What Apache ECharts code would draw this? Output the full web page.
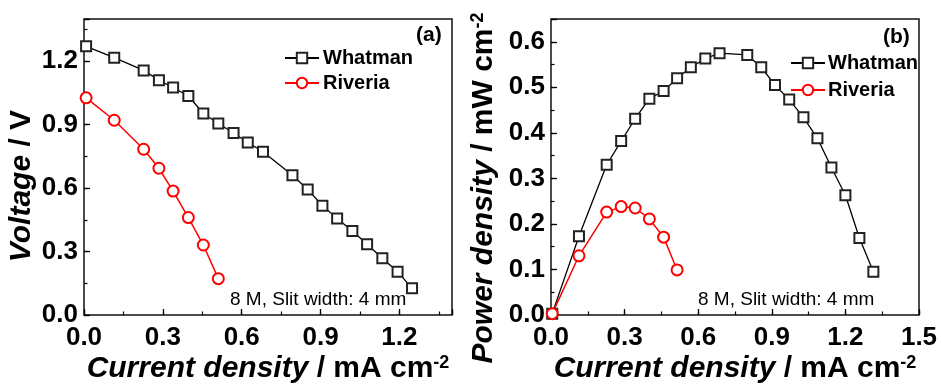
<!DOCTYPE html>
<html><head><meta charset="utf-8">
<script src="https://cdn.jsdelivr.net/npm/echarts@6/dist/echarts.min.js"></script>
<style>html,body{margin:0;padding:0;background:#fff}#c{width:941px;height:385px}</style>
</head><body><div id="c"></div>
<script>
// Panel (a): Voltage vs current density
const vWhatmanX = [0.008, 0.115, 0.227, 0.285, 0.339, 0.397, 0.454, 0.511, 0.569, 0.623, 0.681, 0.793, 0.851, 0.907, 0.963, 1.021, 1.077, 1.135, 1.193, 1.248];
const vWhatmanY = [1.271, 1.217, 1.157, 1.110, 1.076, 1.036, 0.953, 0.906, 0.861, 0.816, 0.772, 0.661, 0.594, 0.517, 0.457, 0.397, 0.335, 0.268, 0.205, 0.126];
const vRiveriaX = [0.008, 0.115, 0.227, 0.285, 0.339, 0.397, 0.454, 0.511];
const vRiveriaY = [1.027, 0.921, 0.784, 0.694, 0.586, 0.461, 0.331, 0.172];
// Panel (b): Power density vs current density
const pWhatmanX = [0.005, 0.114, 0.227, 0.286, 0.343, 0.401, 0.459, 0.514, 0.570, 0.629, 0.687, 0.800, 0.857, 0.913, 0.971, 1.029, 1.086, 1.143, 1.200, 1.257, 1.314];
const pWhatmanY = [0.003, 0.173, 0.330, 0.382, 0.431, 0.475, 0.492, 0.520, 0.544, 0.563, 0.575, 0.571, 0.544, 0.505, 0.473, 0.434, 0.388, 0.324, 0.263, 0.169, 0.095];
const pRiveriaX = [0.005, 0.114, 0.227, 0.286, 0.343, 0.401, 0.459, 0.514];
const pRiveriaY = [0.003, 0.130, 0.226, 0.238, 0.235, 0.211, 0.171, 0.099];
// Tick labels
const xTicksA = ['0.0', '0.3', '0.6', '0.9', '1.2'];
const yTicksA = ['0.0', '0.3', '0.6', '0.9', '1.2'];
const xTicksB = ['0.0', '0.3', '0.6', '0.9', '1.2', '1.5'];
const yTicksB = ['0.0', '0.1', '0.2', '0.3', '0.4', '0.5', '0.6'];
const seriesNames = ['Whatman', 'Riveria'];

const FF = '"Liberation Sans", Arial, sans-serif';
const zip = (xs, ys) => xs.map((x, i) => [x, ys[i]]);
const fmt = (list) => (v) => { const s = (Math.round(v * 1000) / 1000).toFixed(1); return list.includes(s) && Math.abs(parseFloat(s) - v) < 1e-6 ? s : ''; };

const labelStyle = { fontFamily: FF, fontWeight: 'bold', fontSize: 26, color: '#000' };
const richName = {
  i: { fontFamily: FF, fontWeight: 'bold', fontStyle: 'italic', fontSize: 30, color: '#000' },
  b: { fontFamily: FF, fontWeight: 'bold', fontSize: 30, color: '#000' },
  s: { fontFamily: FF, fontWeight: 'bold', fontSize: 18, color: '#000', verticalAlign: 'top' }
};

function mainAxis(grid, min, max, interval, ticks, margin, extra) {
  return Object.assign({
    type: 'value', gridIndex: grid, min: min, max: max, interval: interval,
    axisLine: { show: false },
    nameMoveOverlap: false,
    axisTick: { show: true, inside: true, length: 6, lineStyle: { color: '#000', width: 1.3 } },
    axisLabel: Object.assign({ formatter: fmt(ticks), margin: margin, showMaxLabel: true, hideOverlap: false }, labelStyle),
    splitLine: { show: false }
  }, extra);
}
function minorAxis(grid, min, max, interval, pos) {
  return {
    type: 'value', gridIndex: grid, min: min, max: max, interval: interval, position: pos,
    axisLine: { show: false },
    axisTick: { show: true, inside: true, length: 3.5, lineStyle: { color: '#000', width: 1.2 } },
    axisLabel: { show: false }, splitLine: { show: false }
  };
}

const chart = echarts.init(document.getElementById('c'), null, { renderer: 'canvas' });
const gridBase = { top: 19, width: 368, height: 296, show: true, borderColor: '#111', borderWidth: 1.5, backgroundColor: 'transparent', containLabel: false, outerBoundsMode: 'none' };
const xName = '{i|Current density}{b| / mA cm}{s|-2}';
const option = {
  animation: false,
  backgroundColor: '#fff',
  grid: [
    Object.assign({ left: 84 }, gridBase),
    Object.assign({ left: 551 }, gridBase)
  ],
  xAxis: [
    mainAxis(0, 0, 1.4, 0.3, xTicksA, 10, { position: 'bottom', name: xName, nameLocation: 'middle', nameGap: 39, nameTextStyle: { rich: richName } }),
    minorAxis(0, 0, 1.4, 0.15, 'bottom'),
    mainAxis(1, 0, 1.5, 0.3, xTicksB, 10, { position: 'bottom', name: xName, nameLocation: 'middle', nameGap: 39, nameTextStyle: { rich: richName } }),
    minorAxis(1, 0, 1.5, 0.15, 'bottom')
  ],
  yAxis: [
    mainAxis(0, 0, 1.4, 0.3, yTicksA, 6, { position: 'left', name: '{i|Voltage}{b| / V}', nameLocation: 'middle', nameGap: 47, nameTextStyle: { rich: richName, padding: [0, 38, 0, 0] } }),
    minorAxis(0, 0, 1.4, 0.15, 'left'),
    mainAxis(1, 0, 0.65, 0.1, yTicksB, 6, { position: 'left', name: '{i|Power density}{b| / mW cm}{s|-2}', nameLocation: 'middle', nameGap: 52, nameTextStyle: { rich: richName, padding: [0, 42, 0, 0] } }),
    minorAxis(1, 0, 0.65, 0.05, 'left')
  ],
  legend: [
    { orient: 'vertical', left: 279, top: 43, itemGap: 5, itemWidth: 34, itemHeight: 13, data: seriesNames,
      textStyle: { fontFamily: FF, fontWeight: 'bold', fontSize: 20, color: '#000', padding: [0, 0, 0, -1] } },
    { orient: 'vertical', left: 785, top: 48, itemGap: 7, itemWidth: 34, itemHeight: 13, data: seriesNames,
      textStyle: { fontFamily: FF, fontWeight: 'bold', fontSize: 20, color: '#000', padding: [0, 0, 0, -2] } }
  ],
  series: [
    { name: seriesNames[0], type: 'line', xAxisIndex: 0, yAxisIndex: 0, data: zip(vWhatmanX, vWhatmanY),
      symbol: 'emptyRect', symbolSize: 10, lineStyle: { color: '#000', width: 1.3 }, itemStyle: { color: '#222', borderWidth: 1.4 } },
    { name: seriesNames[1], type: 'line', xAxisIndex: 0, yAxisIndex: 0, data: zip(vRiveriaX, vRiveriaY),
      symbol: 'emptyCircle', symbolSize: 11, lineStyle: { color: '#ff0000', width: 1.5 }, itemStyle: { color: '#ff0000', borderWidth: 1.4 } },
    { name: seriesNames[0], type: 'line', xAxisIndex: 2, yAxisIndex: 2, data: zip(pWhatmanX, pWhatmanY),
      symbol: 'emptyRect', symbolSize: 10, lineStyle: { color: '#000', width: 1.3 }, itemStyle: { color: '#222', borderWidth: 1.4 } },
    { name: seriesNames[1], type: 'line', xAxisIndex: 2, yAxisIndex: 2, data: zip(pRiveriaX, pRiveriaY),
      symbol: 'emptyCircle', symbolSize: 11, lineStyle: { color: '#ff0000', width: 1.5 }, itemStyle: { color: '#ff0000', borderWidth: 1.4 } }
  ],
  graphic: [
    { type: 'text', left: 416, top: 25, style: { text: '(a)', fontFamily: FF, fontWeight: 'bold', fontSize: 21, fill: '#000' } },
    { type: 'text', left: 883, top: 27, style: { text: '(b)', fontFamily: FF, fontWeight: 'bold', fontSize: 21, fill: '#000' } },
    { type: 'text', left: 230, top: 290, style: { text: '8 M, Slit width: 4 mm', fontFamily: FF, fontSize: 19, fill: '#000' } },
    { type: 'text', left: 698, top: 290, style: { text: '8 M, Slit width: 4 mm', fontFamily: FF, fontSize: 19, fill: '#000' } }
  ]
};
chart.setOption(option);
</script></body></html>
